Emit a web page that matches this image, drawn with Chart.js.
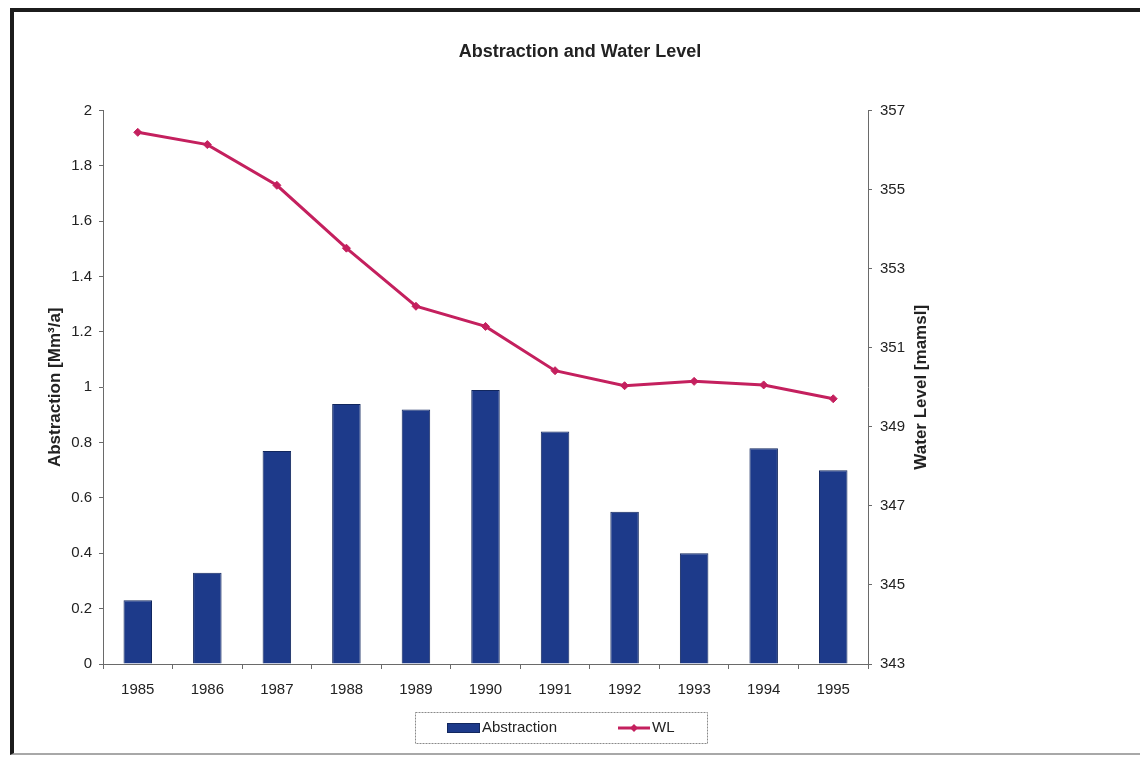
<!DOCTYPE html>
<html>
<head>
<meta charset="utf-8">
<title>Abstraction and Water Level</title>
<script src="https://cdn.jsdelivr.net/npm/chart.js@4.4.1/dist/chart.umd.min.js"></script>
<style>
  html, body { margin: 0; padding: 0; background: #fff; }
  #wrap { position: relative; width: 1140px; height: 758px; overflow: hidden; }
  #chart { position: absolute; left: 0; top: 0; }
  #frame {
    position: absolute; left: 10px; top: 8px; width: 1140px; height: 741px;
    border-top: 4px solid #1c1c1c; border-left: 4px solid #1c1c1c;
    border-bottom: 2px solid #a8a8a8; pointer-events: none;
  }
</style>
</head>
<body>
<div id="wrap">
  <canvas id="chart" width="1140" height="758"></canvas>
  <div id="frame"></div>
</div>
<script>
// Years on the category axis
const years = ['1985', '1986', '1987', '1988', '1989', '1990', '1991', '1992', '1993', '1994', '1995'];
// Annual abstraction, Mm³/a
const abstraction = [0.23, 0.33, 0.77, 0.94, 0.92, 0.99, 0.84, 0.55, 0.40, 0.78, 0.70];
// Water level, metres above mean sea level
const waterLevel = [356.45, 356.14, 355.11, 353.52, 352.05, 351.54, 350.42, 350.04, 350.15, 350.06, 349.71];

const seriesNames = ['Abstraction', 'WL'];
const chartTitle = 'Abstraction and Water Level';
const leftAxisTitle = 'Abstraction [Mm\u00B3/a]';
const rightAxisTitle = 'Water Level [mamsl]';

const BAR_FILL = '#1d3a8a';
const BAR_EDGE = '#12275e';
const LINE_COL = '#c4205e';
const AXIS_COL = '#6a6a6a';
const TEXT_COL = '#222';
const FONT = "'Liberation Sans', Arial, sans-serif";

// Right-hand axis title reads bottom-to-top, like the left one
const rightTitlePlugin = {
  id: 'rightTitle',
  afterDraw(chart) {
    const ctx = chart.ctx;
    const area = chart.chartArea;
    ctx.save();
    ctx.translate(921, (area.top + area.bottom) / 2);
    ctx.rotate(-Math.PI / 2);
    ctx.font = 'bold 17px ' + FONT;
    ctx.fillStyle = TEXT_COL;
    ctx.textAlign = 'center';
    ctx.textBaseline = 'middle';
    ctx.fillText(rightAxisTitle, 0, 0);
    ctx.restore();
  }
};

// Boxed legend under the axis, built from the chart's datasets
const boxedLegendPlugin = {
  id: 'boxedLegend',
  afterDraw(chart) {
    const ctx = chart.ctx;
    const ds = chart.data.datasets;
    ctx.save();
    ctx.strokeStyle = '#8a8a8a';
    ctx.lineWidth = 1;
    ctx.setLineDash([2, 1]);
    ctx.strokeRect(415.5, 712.5, 292, 31);
    ctx.setLineDash([]);
    ctx.font = '15px ' + FONT;
    ctx.textBaseline = 'middle';
    const cy = 728;
    // bar entry
    const bar = ds.find(d => d.type === 'bar');
    ctx.fillStyle = bar.backgroundColor;
    ctx.fillRect(447, cy - 5, 33, 10);
    ctx.strokeStyle = bar.borderColor;
    ctx.strokeRect(447.5, cy - 4.5, 32, 9);
    ctx.fillStyle = TEXT_COL;
    ctx.fillText(bar.label, 482, cy);
    // line entry
    const line = ds.find(d => d.type === 'line');
    ctx.strokeStyle = line.borderColor;
    ctx.lineWidth = 3;
    ctx.beginPath();
    ctx.moveTo(618, cy);
    ctx.lineTo(650, cy);
    ctx.stroke();
    ctx.fillStyle = line.borderColor;
    ctx.beginPath();
    ctx.moveTo(634, cy - 4);
    ctx.lineTo(638, cy);
    ctx.lineTo(634, cy + 4);
    ctx.lineTo(630, cy);
    ctx.closePath();
    ctx.fill();
    ctx.fillStyle = TEXT_COL;
    ctx.fillText(line.label, 652, cy);
    ctx.restore();
  }
};

new Chart(document.getElementById('chart'), {
  data: {
    labels: years,
    datasets: [
      {
        type: 'line',
        label: seriesNames[1],
        data: waterLevel,
        yAxisID: 'y1',
        borderColor: LINE_COL,
        backgroundColor: LINE_COL,
        borderWidth: 3,
        pointStyle: 'rectRot',
        pointRadius: 4,
        pointBorderWidth: 1,
        tension: 0,
        order: 0
      },
      {
        type: 'bar',
        label: seriesNames[0],
        data: abstraction,
        yAxisID: 'y',
        backgroundColor: BAR_FILL,
        borderColor: BAR_EDGE,
        borderWidth: 1,
        categoryPercentage: 1,
        barPercentage: 0.41,
        order: 1
      }
    ]
  },
  plugins: [rightTitlePlugin, boxedLegendPlugin],
  options: {
    responsive: false,
    animation: false,
    devicePixelRatio: 1,
    layout: { padding: { left: 20, right: 0, top: 0, bottom: 0 } },
    plugins: {
      legend: { display: false },
      tooltip: { enabled: false },
      title: {
        display: true,
        text: chartTitle,
        color: TEXT_COL,
        font: { family: FONT, size: 18, weight: 'bold' },
        padding: { top: 41, bottom: 48 }
      }
    },
    scales: {
      x: {
        offset: true,
        grid: {
          offset: true,
          drawOnChartArea: false,
          drawTicks: true,
          tickLength: 5,
          color: AXIS_COL
        },
        border: { color: AXIS_COL, width: 1 },
        ticks: {
          color: TEXT_COL,
          font: { family: FONT, size: 15 },
          padding: 12,
          maxRotation: 0
        },
        afterFit(scale) { scale.height = 94; }
      },
      y: {
        position: 'left',
        min: 0,
        max: 2,
        ticks: {
          stepSize: 0.2,
          color: TEXT_COL,
          font: { family: FONT, size: 15 },
          padding: 7,
          callback: v => String(Number(v.toFixed(1)))
        },
        grid: { drawOnChartArea: false, tickLength: 4, color: AXIS_COL },
        border: { color: AXIS_COL, width: 1 },
        title: {
          display: true,
          text: leftAxisTitle,
          color: TEXT_COL,
          font: { family: FONT, size: 17, weight: 'bold' },
          padding: { top: 25, bottom: 4 }
        },
        afterFit(scale) { scale.width = 83; }
      },
      y1: {
        position: 'right',
        min: 343,
        max: 357,
        ticks: {
          stepSize: 2,
          color: TEXT_COL,
          font: { family: FONT, size: 15 },
          padding: 8
        },
        grid: { drawOnChartArea: false, tickLength: 4, color: AXIS_COL },
        border: { color: AXIS_COL, width: 1 },
        afterFit(scale) { scale.width = 272; }
      }
    }
  }
});
</script>
</body>
</html>
